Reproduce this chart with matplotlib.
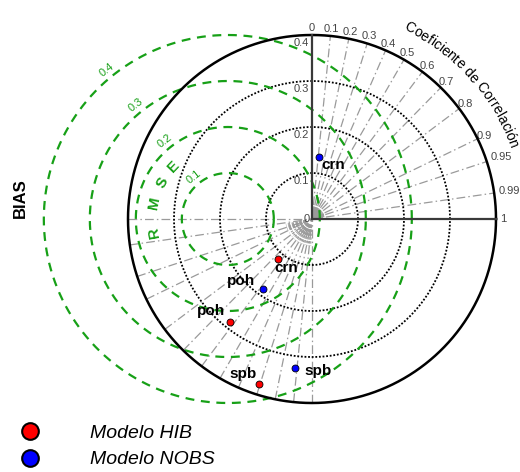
import numpy as np
import matplotlib
matplotlib.use("Agg")
import matplotlib.pyplot as plt
from matplotlib.lines import Line2D
from matplotlib.textpath import TextPath
from matplotlib.font_manager import FontProperties

plt.rcParams['font.family'] = ['Liberation Sans', 'DejaVu Sans']

# datos (desvio padrao, correlacao, lado do bias)
estacoes = ['crn', 'poh', 'spb']
hib_desv = [0.114, 0.286, 0.377]
hib_corr = [0.65, 0.62, 0.305]
hib_lado = [-1, -1, -1]
nobs_desv = [0.136, 0.186, 0.326]
nobs_corr = [0.11, 0.575, 0.113]
nobs_lado = [1, -1, -1]

desv_ticks = [0, 0.1, 0.2, 0.3, 0.4]
corr_ticks = [0.1, 0.2, 0.3, 0.4, 0.5, 0.6, 0.7, 0.8, 0.9, 0.95, 0.99]
rmse_niveis = [0.1, 0.2, 0.3, 0.4]
rmse_centro = -0.183

# geometria da figura (px)
W, H = 520, 472
OX, OY = 312, 219
ESC = 460.0
rmax = 0.4

fig = plt.figure(figsize=(W / 100, H / 100), dpi=100)
ax = fig.add_axes([0, 0, 1, 1])
ax.set_xlim(-OX / ESC, (W - OX) / ESC)
ax.set_ylim(-(H - OY) / ESC, OY / ESC)
ax.axis('off')

t = np.linspace(0, 2 * np.pi, 721)
cinza = '#9a9a9a'
verde = '#17a017'

# linhas de correlacao (passando pela origem)
for c in corr_ticks:
    th = np.arccos(c)
    ax.plot([-rmax * np.cos(th), rmax * np.cos(th)], [-rmax * np.sin(th), rmax * np.sin(th)],
            color=cinza, lw=0.9, ls=(0, (7, 2.5, 1.2, 2.5)), zorder=1)
for c in [0, 1]:
    th = np.arccos(c)
    ax.plot([-rmax * np.cos(th), 0], [-rmax * np.sin(th), 0],
            color=cinza, lw=0.9, ls=(0, (7, 2.5, 1.2, 2.5)), zorder=1)

# pequenos tracos perto da origem
menores = [c for c in np.arange(0.05, 1.0, 0.05)] + [0.91, 0.92, 0.93, 0.94, 0.96, 0.97, 0.98]
for c in menores:
    th = np.arccos(c)
    ax.plot([0.006 * np.cos(th), 0.026 * np.cos(th)], [0.006 * np.sin(th), 0.026 * np.sin(th)],
            color=cinza, lw=0.8, zorder=1)
    ax.plot([-0.015 * np.cos(th), -0.058 * np.cos(th)], [-0.015 * np.sin(th), -0.058 * np.sin(th)],
            color=cinza, lw=0.8, ls=(0, (2, 1.5)), zorder=1)

# circulos de desvio padrao
for r in desv_ticks[1:-1]:
    ax.plot(r * np.cos(t), r * np.sin(t), color='k', lw=1.3, ls=(0, (1, 1)), zorder=2)

# circulos de RMSE
for r in rmse_niveis:
    ax.plot(rmse_centro + r * np.cos(t), r * np.sin(t), color=verde, lw=1.6, ls=(0, (4, 3)), zorder=3)
    a = np.radians(129)
    rr = r + 0.018
    ax.text(rmse_centro + rr * np.cos(a), rr * np.sin(a), str(r), color=verde, fontsize=8,
            rotation=38, ha='center', va='center', rotation_mode='anchor')

# texto RMSE curvado
for letra, ang in zip('RMSE', [190, 168, 151, 136]):
    a = np.radians(ang)
    ax.text(rmse_centro + 0.163 * np.cos(a), 0.163 * np.sin(a), letra, color=verde, fontsize=11,
            fontweight='bold', rotation=ang - 90, ha='center', va='center', rotation_mode='anchor')

# circulo externo e eixos
ax.plot(rmax * np.cos(t), rmax * np.sin(t), color='k', lw=1.8, zorder=4)
ax.plot([0, 0], [0, rmax], color='#3a3a3a', lw=1.6, zorder=4)
ax.plot([0, rmax], [0, 0], color='#3a3a3a', lw=1.6, zorder=4)

# rotulos desvio padrao
for v in desv_ticks:
    if v == 0:
        ax.text(-0.005, 0, '0', fontsize=8, color='#444444', ha='right', va='center')
    else:
        ax.text(-0.007, v - 0.007, str(v), fontsize=8, color='#444444', ha='right', va='top')

# rotulos correlacao
for c in [0] + corr_ticks + [1]:
    th = np.arccos(c)
    rr = 0.433 if c in (0.95, 0.99) else 0.416
    ax.text(rr * np.cos(th), rr * np.sin(th), str(c), fontsize=8, color='#444444',
            ha='center', va='center')

# titulo curvado da correlacao
txt = 'Coeficiente de Correlación'
fp = FontProperties(family='Liberation Sans', size=10)
base = TextPath((0, 0), 'xx', prop=fp).get_extents().width
larg = [(TextPath((0, 0), 'x' + ch + 'x', prop=fp).get_extents().width - base) * 1.02 for ch in txt]
larg = np.array(larg) / 72 * 100 / ESC
r_txt = 0.466
tot = larg.sum() / r_txt
ang0 = np.radians(42) + tot / 2
pos = np.cumsum(larg) - larg / 2
for ch, p in zip(txt, pos):
    a = ang0 - p / r_txt
    ax.text(r_txt * np.cos(a), r_txt * np.sin(a), ch, fontproperties=fp, color='k',
            rotation=np.degrees(a) - 90, ha='center', va='center', rotation_mode='anchor')

ax.text(-292 / ESC, 21 / ESC, 'BIAS', fontsize=12, fontweight='bold', rotation=90,
        ha='center', va='center')

# pontos dos modelos
off_hib = [(8, -9), (-19, 11), (-16, 10)]
off_nobs = [(14, -8), (-22, 8), (23, -3)]
for desv, corr, lado, cor, offs in [(hib_desv, hib_corr, hib_lado, 'red', off_hib),
                                    (nobs_desv, nobs_corr, nobs_lado, 'blue', off_nobs)]:
    th = np.arccos(np.array(corr))
    x = np.array(lado) * np.array(desv) * np.cos(th)
    y = np.array(lado) * np.array(desv) * np.sin(th)
    ax.plot(x, y, 'o', ms=5, mfc=cor, mec='k', mew=0.6, ls='none', zorder=6)
    for nome, xi, yi, o in zip(estacoes, x, y, offs):
        ax.annotate(nome, (xi, yi), xytext=o, textcoords='offset pixels', fontsize=11,
                    fontweight='bold', ha='center', va='center', zorder=7)

# legenda
handles = [Line2D([], [], marker='o', ls='none', ms=12, mfc='red', mec='k', mew=1.5),
           Line2D([], [], marker='o', ls='none', ms=12, mfc='blue', mec='k', mew=1.5)]
fig.legend(handles, ['Modelo HIB', 'Modelo NOBS'], loc='lower left',
           bbox_to_anchor=(9 / W, -8 / H), frameon=False, handlelength=1.0,
           handletextpad=2.55, labelspacing=0.46, borderpad=0.1,
           prop=FontProperties(family='Liberation Sans', size=14, style='italic'))

fig.savefig('out.png', dpi=100)
